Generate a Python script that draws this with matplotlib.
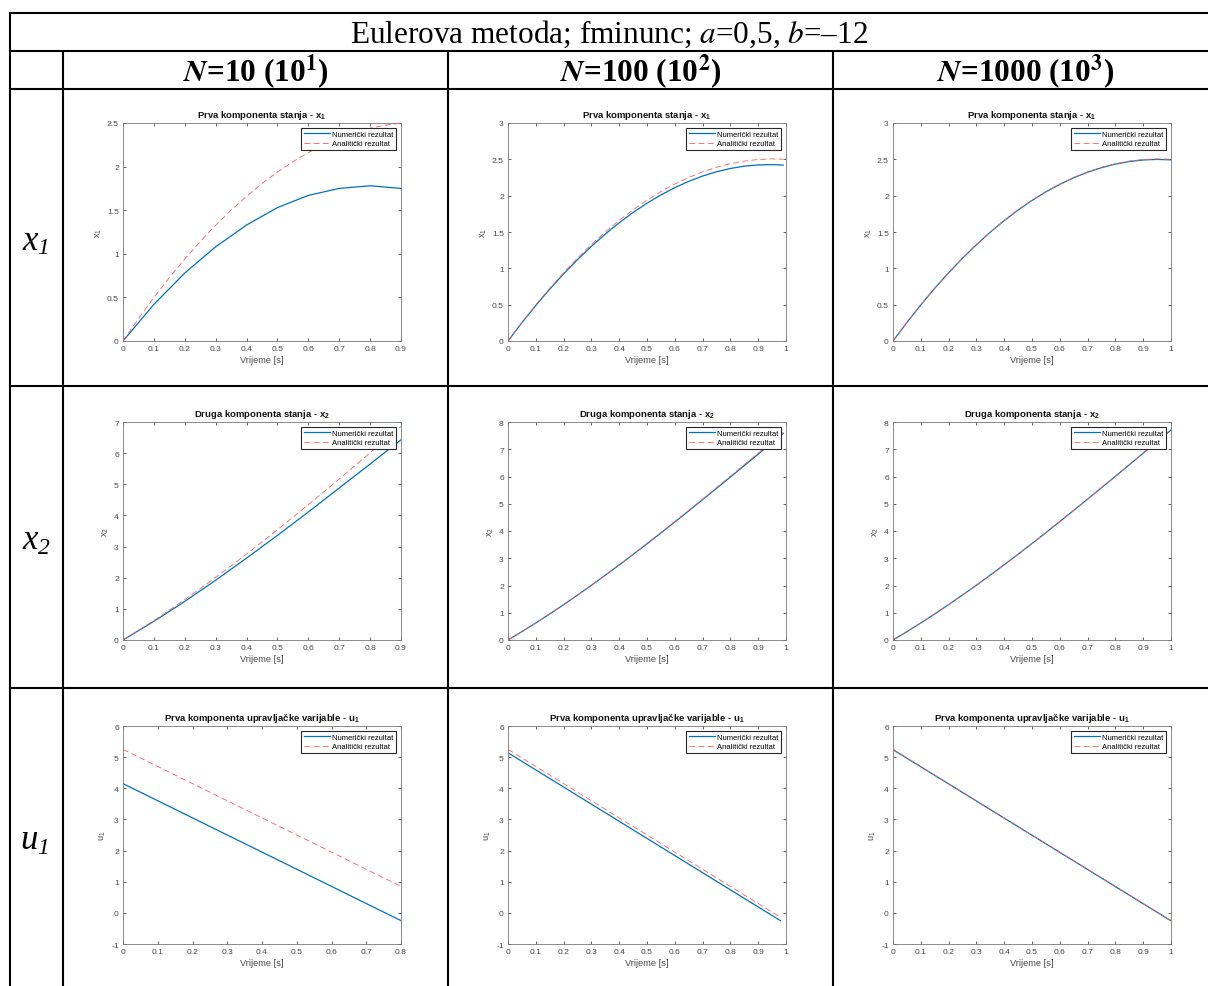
"""Eulerova metoda, fminunc (a=0,5, b=-12): numerički vs analitički rezultat
za N = 10, 100, 1000, složeno u tablicu 3x3 kao u izvještaju.

Outputs: out.png
"""
import numpy as np
import matplotlib
matplotlib.use("Agg")
import matplotlib.pyplot as plt
from matplotlib.ticker import FuncFormatter

# ── Data ─────────────────────────────────────────────────────────────────────
# Analytic solution: the same for every column, each column cuts it at its end time.
t_ana = [0.00, 0.05, 0.10, 0.15, 0.20, 0.25, 0.30, 0.35, 0.40, 0.45, 0.50,
         0.55, 0.60, 0.65, 0.70, 0.75, 0.80, 0.85, 0.90, 0.95, 0.99, 0.999]
x1_ana = [0.000, 0.256, 0.498, 0.726, 0.940, 1.141, 1.328, 1.501, 1.660, 1.806, 1.938,
          2.056, 2.160, 2.251, 2.328, 2.391, 2.440, 2.476, 2.498, 2.506, 2.502, 2.500]
x2_ana = [0.000, 0.306, 0.625, 0.956, 1.298, 1.650, 2.012, 2.382, 2.761, 3.148, 3.542,
          3.942, 4.347, 4.757, 5.172, 5.590, 6.011, 6.434, 6.858, 7.283, 7.623, 7.700]
t_u_ana = [0.0, 0.8, 0.98, 0.998]
u_ana = [5.25, 0.85, -0.14, -0.239]

# N = 10
t_10 = [0.0, 0.1, 0.2, 0.3, 0.4, 0.5, 0.6, 0.7, 0.8, 0.9]
x1_num_10 = [0.00, 0.42, 0.78, 1.08, 1.33, 1.53, 1.67, 1.75, 1.78, 1.75]
x2_num_10 = [0.00, 0.60, 1.24, 1.92, 2.63, 3.36, 4.11, 4.88, 5.65, 6.43]
t_u_10 = [0.0, 0.1, 0.2, 0.3, 0.4, 0.5, 0.6, 0.7, 0.8]
u_num_10 = [4.15, 3.60, 3.05, 2.50, 1.95, 1.40, 0.85, 0.30, -0.25]

# N = 100
t_100 = [0.00, 0.05, 0.10, 0.15, 0.20, 0.25, 0.30, 0.35, 0.40, 0.45, 0.50,
         0.55, 0.60, 0.65, 0.70, 0.75, 0.80, 0.85, 0.90, 0.95, 0.99]
x1_num_100 = [0.000, 0.252, 0.489, 0.713, 0.924, 1.120, 1.303, 1.472, 1.627, 1.769, 1.896,
              2.010, 2.111, 2.197, 2.270, 2.329, 2.374, 2.406, 2.423, 2.427, 2.421]
x2_num_100 = [0.000, 0.306, 0.625, 0.955, 1.296, 1.647, 2.007, 2.377, 2.754, 3.139, 3.530,
              3.928, 4.331, 4.738, 5.150, 5.564, 5.982, 6.401, 6.821, 7.242, 7.579]
t_u_100 = [0.0, 0.98]
u_num_100 = [5.14, -0.25]

# N = 1000
t_1000 = [0.00, 0.05, 0.10, 0.15, 0.20, 0.25, 0.30, 0.35, 0.40, 0.45, 0.50,
          0.55, 0.60, 0.65, 0.70, 0.75, 0.80, 0.85, 0.90, 0.95, 0.999]
x1_num_1000 = [0.000, 0.255, 0.497, 0.725, 0.939, 1.139, 1.325, 1.498, 1.657, 1.802, 1.934,
               2.052, 2.156, 2.246, 2.323, 2.385, 2.434, 2.470, 2.491, 2.499, 2.493]
x2_num_1000 = [0.000, 0.306, 0.625, 0.956, 1.298, 1.649, 2.011, 2.382, 2.761, 3.147, 3.541,
               3.940, 4.346, 4.756, 5.170, 5.588, 6.008, 6.431, 6.855, 7.280, 7.696]
t_u_1000 = [0.0, 0.998]
u_num_1000 = [5.24, -0.245]

col_headers = [r"$\mathbfit{N}$=10 (10$^{\mathbf{1}}$)",
               r"$\mathbfit{N}$=100 (10$^{\mathbf{2}}$)",
               r"$\mathbfit{N}$=1000 (10$^{\mathbf{3}}$)"]
row_vars = ["x", "x", "u"]
row_subs = ["1", "2", "1"]
table_title = r"Eulerova metoda; fminunc; $\mathit{a}$=0,5, $\mathit{b}$=–12"

legend_labels = ["Numerički rezultat", "Analitički rezultat"]
panel_titles = [r"Prva komponenta stanja - x$_{\mathbf{1}}$",
                r"Druga komponenta stanja - x$_{\mathbf{2}}$",
                r"Prva komponenta upravljačke varijable - u$_{\mathbf{1}}$"]
panel_ylabels = [r"x$_1$", r"x$_2$", r"u$_1$"]

# per column: numeric series for x1, x2, u1 and where each column stops
num_t = [(t_10, t_10, t_u_10), (t_100, t_100, t_u_100), (t_1000, t_1000, t_u_1000)]
num_y = [(x1_num_10, x2_num_10, u_num_10),
         (x1_num_100, x2_num_100, u_num_100),
         (x1_num_1000, x2_num_1000, u_num_1000)]
x_end = [0.9, 0.99, 0.999]
u_end = [0.8, 0.98, 0.998]
xmax_state = [0.9, 1.0, 1.0]
xmax_ctrl = [0.8, 1.0, 1.0]
ymax_x1 = [2.5, 3.0, 3.0]
ymax_x2 = [7.0, 8.0, 8.0]

BLUE = "#0072BD"
RED = "#ff5a5a"
TXT = "#4a4a4a"
W, H = 1208, 987


def panel(ax, t_num, y_num, t_ref, y_ref, xmax, ylim, ystep, title, ylabel):
    ax.plot(t_num, y_num, color=BLUE, lw=0.9, label=legend_labels[0], zorder=2)
    ax.plot(t_ref, y_ref, color=RED, lw=0.6, ls=(0, (7, 4)), label=legend_labels[1], zorder=3)
    ax.set_xlim(0, xmax)
    ax.set_ylim(*ylim)
    ax.set_xticks(np.arange(0, xmax + 1e-6, 0.1))
    ax.set_yticks(np.arange(ylim[0], ylim[1] + 1e-6, ystep))
    fmt = FuncFormatter(lambda v, _: f"{round(v, 2):g}")
    ax.xaxis.set_major_formatter(fmt)
    ax.yaxis.set_major_formatter(fmt)
    ax.tick_params(direction="in", length=2.4, width=0.5, top=True, right=True,
                   labelsize=6.1, labelcolor=TXT, color="#262626", pad=3)
    for s in ax.spines.values():
        s.set_color("#777777")
        s.set_linewidth(0.6)
    ax.set_title(title, fontsize=6.8, fontweight="bold", color="#111111", pad=4.5)
    ax.set_xlabel("Vrijeme [s]", fontsize=6.7, color=TXT, labelpad=2)
    ax.set_ylabel(ylabel, fontsize=6.7, color=TXT, labelpad=2)
    leg = ax.legend(loc="upper right", fontsize=5.5, fancybox=False, framealpha=1,
                    edgecolor="#262626", borderpad=0.3, labelspacing=0.25,
                    handlelength=3.4, handletextpad=0.3, borderaxespad=0.7)
    leg.get_frame().set_linewidth(0.8)


def main():
    plt.rcParams.update({
        "font.family": "Liberation Sans",
        "mathtext.fontset": "custom",
        "mathtext.rm": "Liberation Sans",
        "mathtext.it": "Liberation Sans:italic",
        "mathtext.bf": "Liberation Sans:bold",
    })
    fig = plt.figure(figsize=(W / 100, H / 100), dpi=100)

    # ── Table grid (pixel coordinates) ───────────────────────────────────────
    bg = fig.add_axes([0, 0, 1, 1], zorder=0)
    bg.set_xlim(0, W)
    bg.set_ylim(H, 0)
    bg.axis("off")
    col_x = [10, 63, 448, 833, 1218]
    row_y = [14, 52, 90, 387, 689, H]
    for y in row_y[:-1]:
        bg.plot([col_x[0], W], [y, y], color="k", lw=1.5, solid_capstyle="projecting")
    bg.plot([col_x[0], col_x[0]], [row_y[0], H], color="k", lw=1.5)
    for x in col_x[1:4]:
        bg.plot([x, x], [row_y[1], H], color="k", lw=1.5)

    serif = dict(family="Liberation Serif", math_fontfamily="stix", ha="center", va="center")
    bg.text((col_x[0] + W) / 2, (row_y[0] + row_y[1]) / 2 + 1, table_title, fontsize=22.5, **serif)
    for c, lab in enumerate(col_headers):
        bg.text((col_x[c + 1] + col_x[c + 2]) / 2, (row_y[1] + row_y[2]) / 2 + 1, lab,
                fontsize=22.5, fontweight="bold", **serif)
    # row labels: italic variable + italic subscript, like the Word table
    for r, (v, s) in enumerate(zip(row_vars, row_subs)):
        cy = (row_y[r + 2] + row_y[r + 3]) / 2
        split = (col_x[0] + col_x[1]) / 2 + 1
        bg.text(split, cy + 11, v, fontsize=25, family="Liberation Serif", style="italic",
                ha="right", va="baseline")
        bg.text(split, cy + 16, s, fontsize=17, family="Liberation Serif", style="italic",
                ha="left", va="baseline")

    # ── Plots ────────────────────────────────────────────────────────────────
    ax_w, ax_h = 278, 218
    ax_top = [124, 423, 727]
    for c in range(3):
        left = col_x[c + 1] + 60
        ta = np.array(t_ana)
        tu = np.array(t_u_ana)
        sel = ta <= x_end[c] + 1e-9
        selu = tu <= u_end[c] + 1e-9
        refs = [(ta[sel], np.array(x1_ana)[sel]),
                (ta[sel], np.array(x2_ana)[sel]),
                (tu[selu], np.array(u_ana)[selu])]
        specs = [(xmax_state[c], (0, ymax_x1[c]), 0.5),
                 (xmax_state[c], (0, ymax_x2[c]), 1.0),
                 (xmax_ctrl[c], (-1, 6), 1.0)]
        for r in range(3):
            rect = [left / W, 1 - (ax_top[r] + ax_h) / H, ax_w / W, ax_h / H]
            ax = fig.add_axes(rect, zorder=1)
            xmax, ylim, ystep = specs[r]
            panel(ax, num_t[c][r], num_y[c][r], refs[r][0], refs[r][1],
                  xmax, ylim, ystep, panel_titles[r], panel_ylabels[r])

    fig.savefig("out.png", dpi=100)


if __name__ == "__main__":
    main()
